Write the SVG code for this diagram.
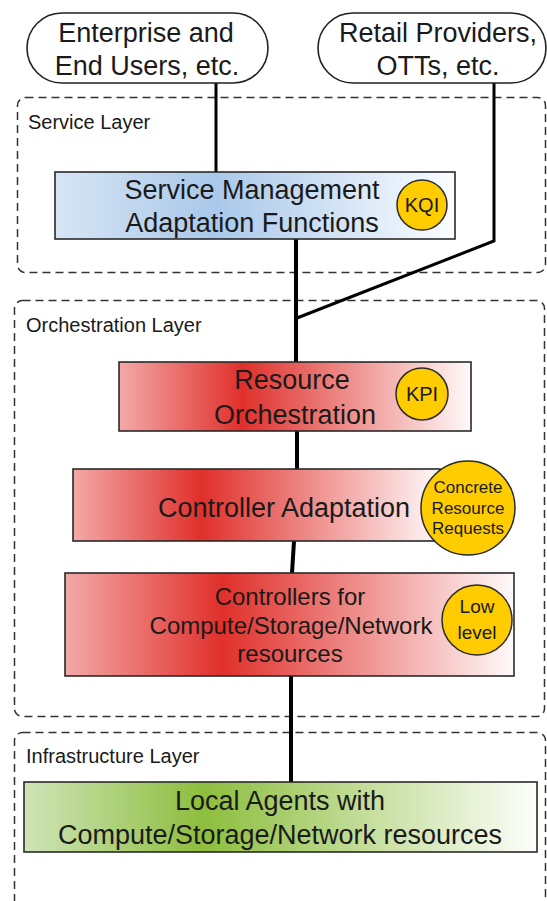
<svg xmlns="http://www.w3.org/2000/svg" width="547" height="901" viewBox="0 0 547 901">
  <defs>
    <linearGradient id="gBlue" x1="0" y1="0" x2="1" y2="0">
      <stop offset="0" stop-color="#d7e5f4"/>
      <stop offset="0.4" stop-color="#a9c8ea"/>
      <stop offset="1" stop-color="#fbfdff"/>
    </linearGradient>
    <linearGradient id="gRed" x1="0" y1="0" x2="1" y2="0">
      <stop offset="0" stop-color="#f3a9a8"/>
      <stop offset="0.35" stop-color="#e0302b"/>
      <stop offset="1" stop-color="#fefafa"/>
    </linearGradient>
    <linearGradient id="gGreen" x1="0" y1="0" x2="1" y2="0">
      <stop offset="0" stop-color="#cfe4b8"/>
      <stop offset="0.35" stop-color="#8dbe3e"/>
      <stop offset="1" stop-color="#fdfefb"/>
    </linearGradient>
  </defs>
  <style>
    text { font-family: "Liberation Sans", Arial, sans-serif; fill: #1a1a1a; }
    .big { font-size: 27px; text-anchor: middle; }
    .mid { font-size: 24px; text-anchor: middle; }
    .layer { font-size: 20px; }
    .badge { font-size: 20px; text-anchor: middle; }
    .badgeS { font-size: 17px; text-anchor: middle; }
    .badgeM { font-size: 19px; text-anchor: middle; }
    .zone { fill: none; stroke: #333; stroke-width: 1.5; stroke-dasharray: 8 5; }
    .box { stroke: #2a2a2a; stroke-width: 1.6; }
    .pill { fill: #fff; stroke: #222; stroke-width: 1.6; }
    .dot { fill: #ffcc00; stroke: #2a2a2a; stroke-width: 1.5; }
    .wire { fill: none; stroke: #000; stroke-width: 3; stroke-linejoin: miter; }
    .trunk { fill: none; stroke: #000; stroke-width: 4; }
  </style>

  <!-- layer zones -->
  <g id="service-layer">
    <rect class="zone" x="17.5" y="97.5" width="528" height="175" rx="8"/>
    <text class="layer" x="28" y="129">Service Layer</text>
  </g>
  <g id="orchestration-layer">
    <rect class="zone" x="14.5" y="300.5" width="530" height="416" rx="8"/>
    <text class="layer" x="26" y="332">Orchestration Layer</text>
  </g>
  <g id="infrastructure-layer">
    <rect class="zone" x="14.5" y="732.5" width="531" height="200" rx="8"/>
    <text class="layer" x="26" y="763">Infrastructure Layer</text>
  </g>

  <!-- connectors -->
  <g id="connectors">
    <line class="wire" x1="216" y1="83" x2="216" y2="172"/>
    <polyline class="wire" points="494,83 494,241 297,318"/>
    <line class="trunk" x1="296" y1="239" x2="296" y2="362"/>
    <line class="trunk" x1="297" y1="431" x2="297" y2="469"/>
    <line class="trunk" x1="294" y1="541" x2="292" y2="573"/>
    <line class="trunk" x1="291" y1="676" x2="291" y2="782"/>
  </g>

  <!-- consumers -->
  <g id="enterprise-users">
    <rect class="pill" x="27" y="13" width="241" height="70" rx="35"/>
    <text class="big" x="146" y="42">Enterprise and</text>
    <text class="big" x="147" y="75">End Users, etc.</text>
  </g>
  <g id="retail-providers">
    <rect class="pill" x="318" y="13" width="228" height="70" rx="35"/>
    <text class="big" x="438" y="42">Retail Providers,</text>
    <text class="big" x="438" y="75">OTTs, etc.</text>
  </g>

  <!-- service management -->
  <g id="service-management">
    <rect class="box" x="55" y="172" width="400" height="67" fill="url(#gBlue)"/>
    <text class="big" x="252" y="199">Service Management</text>
    <text class="big" x="252" y="232">Adaptation Functions</text>
    <circle class="dot" cx="422" cy="205" r="25"/>
    <text class="badge" x="422" y="212">KQI</text>
  </g>

  <!-- orchestration -->
  <g id="resource-orchestration">
    <rect class="box" x="119" y="362" width="352" height="69" fill="url(#gRed)"/>
    <text class="big" x="292" y="389">Resource</text>
    <text class="big" x="295" y="424">Orchestration</text>
    <circle class="dot" cx="422" cy="394" r="26"/>
    <text class="badge" x="422" y="401">KPI</text>
  </g>

  <g id="controller-adaptation">
    <rect class="box" x="73" y="469" width="367" height="72" fill="url(#gRed)"/>
    <text class="big" x="284" y="517">Controller Adaptation</text>
    <circle class="dot" cx="468" cy="508" r="47"/>
    <text class="badgeS" x="468" y="493">Concrete</text>
    <text class="badgeS" x="468" y="514">Resource</text>
    <text class="badgeS" x="468" y="534">Requests</text>
  </g>

  <g id="controllers">
    <rect class="box" x="65" y="573" width="449" height="103" fill="url(#gRed)"/>
    <text class="mid" x="290" y="605">Controllers for</text>
    <text class="mid" x="291" y="634">Compute/Storage/Network</text>
    <text class="mid" x="290" y="662">resources</text>
    <circle class="dot" cx="477" cy="620" r="35"/>
    <text class="badgeM" x="477" y="613">Low</text>
    <text class="badgeM" x="477" y="639">level</text>
  </g>

  <!-- infrastructure -->
  <g id="local-agents">
    <rect class="box" x="24" y="782" width="513" height="70" fill="url(#gGreen)"/>
    <text class="big" x="280" y="810">Local Agents with</text>
    <text class="big" x="280" y="844">Compute/Storage/Network resources</text>
  </g>
</svg>
